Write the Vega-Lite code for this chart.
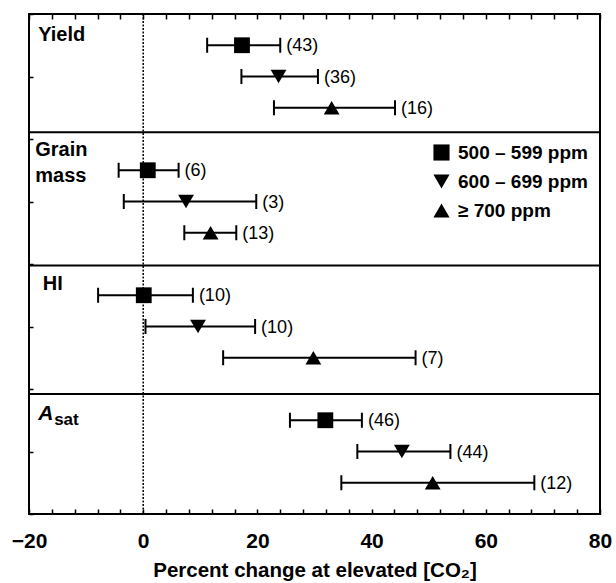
{
  "$schema": "https://vega.github.io/schema/vega-lite/v6.json",
  "width": 571,
  "height": 500,
  "autosize": "none",
  "padding": {"left": 29, "top": 14, "right": 16, "bottom": 69},
  "config": {
    "view": {"stroke": "#000", "strokeWidth": 2},
    "font": "Liberation Sans",
    "axis": {"grid": false, "domain": false, "tickColor": "#000", "tickWidth": 1.5, "labelColor": "#000", "titleColor": "#000"},
    "legend": {
      "title": null, "padding": 0, "labelFont": "Liberation Sans", "labelFontSize": 19, "labelFontWeight": "bold",
      "labelColor": "#000", "labelOffset": 7, "rowPadding": 9, "symbolSize": 260, "symbolFillColor": "#000",
      "symbolStrokeColor": "#000", "symbolOpacity": 1, "symbolStrokeWidth": 0
    }
  },
  "datasets": {
    "main": [
      {"panel": "Yield", "level": "500 – 599 ppm", "row": 1, "mean": 17.3, "lo": 11.2, "hi": 24.0, "n": "(43)"},
      {"panel": "Yield", "level": "600 – 699 ppm", "row": 2, "mean": 23.7, "lo": 17.2, "hi": 30.6, "n": "(36)"},
      {"panel": "Yield", "level": "≥ 700 ppm", "row": 3, "mean": 33.0, "lo": 22.9, "hi": 44.1, "n": "(16)"},
      {"panel": "Grain mass", "level": "500 – 599 ppm", "row": 5, "mean": 0.8, "lo": -4.3, "hi": 6.2, "n": "(6)"},
      {"panel": "Grain mass", "level": "600 – 699 ppm", "row": 6, "mean": 7.5, "lo": -3.4, "hi": 19.8, "n": "(3)"},
      {"panel": "Grain mass", "level": "≥ 700 ppm", "row": 7, "mean": 11.8, "lo": 7.2, "hi": 16.3, "n": "(13)"},
      {"panel": "HI", "level": "500 – 599 ppm", "row": 9, "mean": 0.1, "lo": -7.9, "hi": 8.7, "n": "(10)"},
      {"panel": "HI", "level": "600 – 699 ppm", "row": 10, "mean": 9.6, "lo": 0.4, "hi": 19.6, "n": "(10)"},
      {"panel": "HI", "level": "≥ 700 ppm", "row": 11, "mean": 29.8, "lo": 14.0, "hi": 47.7, "n": "(7)"},
      {"panel": "Asat", "level": "500 – 599 ppm", "row": 13, "mean": 31.9, "lo": 25.7, "hi": 38.3, "n": "(46)"},
      {"panel": "Asat", "level": "600 – 699 ppm", "row": 14, "mean": 45.3, "lo": 37.5, "hi": 53.8, "n": "(44)"},
      {"panel": "Asat", "level": "≥ 700 ppm", "row": 15, "mean": 50.7, "lo": 34.7, "hi": 68.5, "n": "(12)"}
    ],
    "seps": [{"y": 3.78}, {"y": 8.05}, {"y": 12.16}],
    "zero": [{"x": 0}],
    "labels": [
      {"t": "Yield", "x": -18.4, "y": 0.86},
      {"t": "Grain\nmass", "x": -18.9, "y": 4.55},
      {"t": "HI", "x": -17.6, "y": 8.83}
    ],
    "asat": [{"t": "A", "s": "sat", "x": -18.4, "y": 12.98}]
  },
  "resolve": {"axis": {"x": "independent"}},
  "layer": [
    {
      "data": {"name": "zero"},
      "mark": {"type": "rule", "color": "#000", "strokeWidth": 1.5, "strokeDash": [2, 1.5]},
      "encoding": {
        "x": {"field": "x", "type": "quantitative", "scale": {"domain": [-20, 80], "nice": false, "zero": false},
          "axis": {"orient": "bottom", "values": [-20,-16,-12,-8,-4,0,4,8,12,16,20,24,28,32,36,40,44,48,52,56,60,64,68,72,76,80],
            "tickSize": -5, "labelExpr": "datum.value % 20 === 0 ? datum.label : ''", "labelFlush": false, "labelOverlap": false,
            "labelFontSize": 21, "labelFontWeight": "bold", "labelPadding": 21,
            "title": "Percent change at elevated [CO₂]", "titleFontSize": 20.5, "titleFontWeight": "bold", "titlePadding": 9}}
      }
    },
    {
      "data": {"name": "seps"},
      "mark": {"type": "rule", "color": "#000", "strokeWidth": 2},
      "encoding": {
        "y": {"field": "y", "type": "quantitative", "scale": {"domain": [0, 16], "reverse": true, "nice": false, "zero": false},
          "axis": {"values": [0,1,2,3,4,5,6,7,8,9,10,11,12,13,14,15,16], "tickSize": -4, "labels": false, "title": null}}
      }
    },
    {
      "data": {"name": "main"},
      "mark": {"type": "rule", "color": "#000", "strokeWidth": 2},
      "encoding": {
        "x": {"field": "lo", "type": "quantitative", "scale": {"domain": [-20, 80], "nice": false, "zero": false},
          "axis": {"orient": "top", "values": [-20,-16,-12,-8,-4,0,4,8,12,16,20,24,28,32,36,40,44,48,52,56,60,64,68,72,76,80],
            "tickSize": -5, "labels": false, "title": null}},
        "x2": {"field": "hi"},
        "y": {"field": "row", "type": "quantitative", "scale": {"domain": [0, 16], "reverse": true, "nice": false, "zero": false}}
      }
    },
    {
      "data": {"name": "main"},
      "mark": {"type": "tick", "color": "#000", "orient": "vertical", "size": 15, "thickness": 2, "opacity": 1},
      "encoding": {
        "x": {"field": "lo", "type": "quantitative", "scale": {"domain": [-20, 80], "nice": false, "zero": false}, "axis": null},
        "y": {"field": "row", "type": "quantitative", "scale": {"domain": [0, 16], "reverse": true, "nice": false, "zero": false}}
      }
    },
    {
      "data": {"name": "main"},
      "mark": {"type": "tick", "color": "#000", "orient": "vertical", "size": 15, "thickness": 2, "opacity": 1},
      "encoding": {
        "x": {"field": "hi", "type": "quantitative", "scale": {"domain": [-20, 80], "nice": false, "zero": false}, "axis": null},
        "y": {"field": "row", "type": "quantitative", "scale": {"domain": [0, 16], "reverse": true, "nice": false, "zero": false}}
      }
    },
    {
      "data": {"name": "main"},
      "mark": {"type": "point", "filled": true, "color": "#000", "opacity": 1, "size": 250, "strokeWidth": 0},
      "encoding": {
        "x": {"field": "mean", "type": "quantitative", "scale": {"domain": [-20, 80], "nice": false, "zero": false}, "axis": null},
        "y": {"field": "row", "type": "quantitative", "scale": {"domain": [0, 16], "reverse": true, "nice": false, "zero": false}},
        "shape": {"field": "level", "type": "nominal",
          "scale": {"domain": ["500 – 599 ppm", "600 – 699 ppm", "≥ 700 ppm"], "range": ["square", "triangle-down", "triangle-up"]},
          "legend": {"orient": "none", "legendX": 403, "legendY": 129, "direction": "vertical"}}
      }
    },
    {
      "data": {"name": "main"},
      "mark": {"type": "text", "align": "left", "baseline": "middle", "dx": 6, "dy": 1, "fontSize": 18, "color": "#000"},
      "encoding": {
        "x": {"field": "hi", "type": "quantitative", "scale": {"domain": [-20, 80], "nice": false, "zero": false}, "axis": null},
        "y": {"field": "row", "type": "quantitative", "scale": {"domain": [0, 16], "reverse": true, "nice": false, "zero": false}},
        "text": {"field": "n"}
      }
    },
    {
      "data": {"name": "labels"},
      "mark": {"type": "text", "align": "left", "baseline": "alphabetic", "fontSize": 20, "fontWeight": "bold", "color": "#000", "lineBreak": "\n", "lineHeight": 26},
      "encoding": {
        "x": {"field": "x", "type": "quantitative", "scale": {"domain": [-20, 80], "nice": false, "zero": false}, "axis": null},
        "y": {"field": "y", "type": "quantitative", "scale": {"domain": [0, 16], "reverse": true, "nice": false, "zero": false}},
        "text": {"field": "t"}
      }
    },
    {
      "data": {"name": "asat"},
      "mark": {"type": "text", "align": "left", "baseline": "alphabetic", "fontSize": 21, "fontWeight": "bold", "fontStyle": "italic", "color": "#000"},
      "encoding": {
        "x": {"field": "x", "type": "quantitative", "scale": {"domain": [-20, 80], "nice": false, "zero": false}, "axis": null},
        "y": {"field": "y", "type": "quantitative", "scale": {"domain": [0, 16], "reverse": true, "nice": false, "zero": false}},
        "text": {"field": "t"}
      }
    },
    {
      "data": {"name": "asat"},
      "mark": {"type": "text", "align": "left", "baseline": "alphabetic", "fontSize": 17, "fontWeight": "bold", "color": "#000", "dx": 16, "dy": 5},
      "encoding": {
        "x": {"field": "x", "type": "quantitative", "scale": {"domain": [-20, 80], "nice": false, "zero": false}, "axis": null},
        "y": {"field": "y", "type": "quantitative", "scale": {"domain": [0, 16], "reverse": true, "nice": false, "zero": false}},
        "text": {"field": "s"}
      }
    }
  ]
}
